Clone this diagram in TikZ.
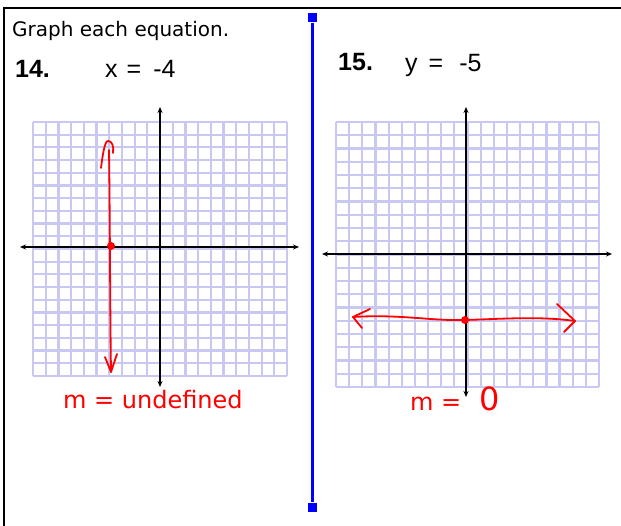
\documentclass[tikz,border=0pt]{standalone}
\usepackage{fontspec}
\setmainfont{Liberation Sans}
\newfontfamily\notefont{DejaVu Sans}
\usepackage{xcolor}
\usetikzlibrary{arrows.meta}
\definecolor{gridblue}{RGB}{200,200,242}

\begin{document}
\begin{tikzpicture}[x=1pt, y=-1pt, >={Stealth[length=6pt,width=5pt]},
  gridline/.style={draw=gridblue, line width=2.2pt},
  axis/.style={<->, black, line width=1.4pt},
  ink/.style={red, line width=1.8pt, line cap=round, line join=round},
  inkdot/.style={circle, fill=red, inner sep=0pt, minimum size=8pt},
  endbox/.style={fill=blue, inner sep=0pt, minimum size=9pt},
  num/.style={anchor=base west, inner sep=0pt, font=\fontsize{25}{28}\selectfont\bfseries},
  eqn/.style={anchor=base west, inner sep=0pt, font=\fontsize{25}{28}\selectfont},
  hand/.style={red, anchor=base west, inner sep=0pt, font=\notefont\fontsize{24}{27}\selectfont}]
  \useasboundingbox (0,0) rectangle (621,526);
  \draw[line width=2pt] (4,526) -- (4,8) -- (621,8);
  \node[endbox] (divtop) at (312,18) {};
  \node[endbox] (divbot) at (312,507) {};
  \draw[blue, line width=3pt] (divtop) -- (divbot);

  \node[anchor=base west, inner sep=0pt, font=\notefont\fontsize{20}{23}\selectfont]
    (title) at (12,37) {Graph each equation.};
  \node[num] (q14) at (15,78) {14.};
  \node[eqn] (eq14) at (105,78) {x\hspace{9pt}=\hspace{12pt}-4};
  \node[num] (q15) at (338,71) {15.};
  \node[eqn] (eq15) at (405,72) {y\hspace{11pt}=\hspace{16pt}-5};

  % graph for 14
  \begin{scope}[shift={(33,122)}]
    \foreach \i in {0,...,20} {
      \draw[gridline] (\i*12.7,0) -- (\i*12.7,254);
      \draw[gridline] (0,\i*12.7) -- (254,\i*12.7);
    }
  \end{scope}
  \coordinate (lw) at (20,247);
  \coordinate (le) at (299,247);
  \coordinate (ln) at (160,107);
  \coordinate (ls) at (160,387);
  \draw[axis] (lw) -- (le);
  \draw[axis] (ln) -- (ls);
  \coordinate (ltop) at (109,150);
  \coordinate (lbot) at (111,372);
  \draw[ink] (ltop) .. controls (110,220) and (110,300) .. (lbot);
  \draw[ink] (101,168) .. controls (103,152) and (105,141) .. (108,141)
    .. controls (112,141) and (114,146) .. (113,153);
  \draw[ink] (105,357) -- (lbot) -- (117,354);
  \node[inkdot] (lpt) at (111,246) {};
  \node[hand] (slope14) at (63,408) {m = undefined};

  % graph for 15
  \begin{scope}[shift={(336,122)}]
    \foreach \i in {0,...,20} {
      \draw[gridline] (\i*13.15,0) -- (\i*13.15,265);
      \draw[gridline] (0,\i*13.25) -- (263,\i*13.25);
    }
  \end{scope}
  \coordinate (rw) at (322,254);
  \coordinate (re) at (612,254);
  \coordinate (rn) at (466,107);
  \coordinate (rs) at (466,397);
  \draw[axis] (rw) -- (re);
  \draw[axis] (rn) -- (rs);
  \coordinate (rleft) at (353,317);
  \coordinate (rright) at (575,321);
  \draw[ink] (rleft) .. controls (400,314) and (430,321) .. (465,320)
    .. controls (500,319) and (540,316) .. (rright);
  \draw[ink] (370,309) -- (rleft) -- (362,328);
  \draw[ink] (557,304) -- (rright) -- (564,332);
  \node[inkdot] (rpt) at (465,320) {};
  \node[hand] (slope15) at (410,410) {m =\hspace{18pt}{\fontsize{32}{34}\selectfont 0}};
\end{tikzpicture}
\end{document}
